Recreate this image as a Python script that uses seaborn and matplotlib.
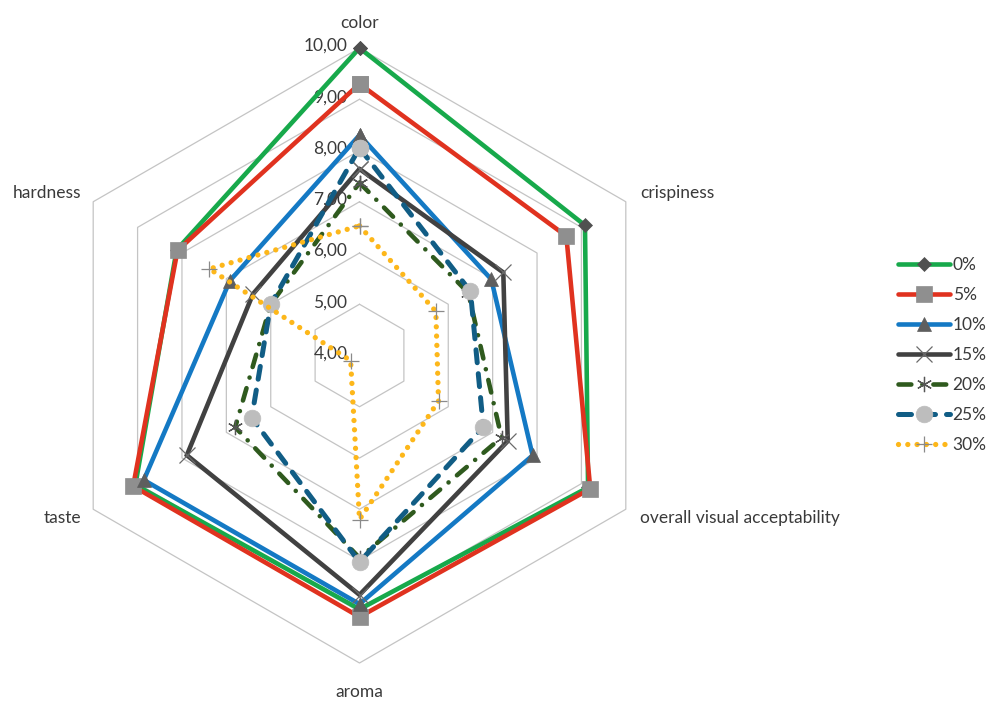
import numpy as np
import pandas as pd
import matplotlib
matplotlib.use("Agg")
import matplotlib.pyplot as plt
import seaborn as sns

# Sensory attributes, clockwise from the top
categories = ["color", "crispiness", "overall visual acceptability",
              "aroma", "taste", "hardness"]

# Mean scores per substitution level
series_labels = ["0%", "5%", "10%", "15%", "20%", "25%", "30%"]
scores_0 = [10.00, 9.08, 9.15, 8.95, 9.05, 8.12]
scores_5 = [9.30, 8.66, 9.20, 9.10, 9.10, 8.10]
scores_10 = [8.30, 6.97, 7.90, 8.85, 8.86, 6.92]
scores_15 = [7.64, 7.24, 7.34, 8.67, 7.89, 6.40]
scores_20 = [7.37, 6.45, 7.20, 7.95, 6.80, 6.00]
scores_25 = [8.05, 6.50, 6.79, 8.03, 6.43, 6.00]
scores_30 = [6.53, 5.72, 5.78, 7.20, 4.20, 7.38]
series_values = [scores_0, scores_5, scores_10, scores_15,
                 scores_20, scores_25, scores_30]

# Radial scale
r_min, r_max = 4, 10
ring_values = [5, 6, 7, 8, 9, 10]
tick_values = [4, 5, 6, 7, 8, 9, 10]
tick_labels = ["4,00", "5,00", "6,00", "7,00", "8,00", "9,00", "10,00"]

# Line and marker styles for each series
styles = {
    "0%":  dict(color="#17A94B", lw=3.3, ls="-", marker="D", ms=7.5,
                mfc="#505050", mec="#505050", mew=0.5),
    "5%":  dict(color="#E0321F", lw=3.3, ls="-", marker="s", ms=11,
                mfc="#8F8F8F", mec="#8F8F8F", mew=0.5),
    "10%": dict(color="#1479C4", lw=3.3, ls="-", marker="^", ms=10,
                mfc="#5E5E5E", mec="#5E5E5E", mew=0.5),
    "15%": dict(color="#414141", lw=3.3, ls="-", marker="x", ms=11,
                mfc="#6A6A6A", mec="#6A6A6A", mew=0.9),
    "20%": dict(color="#2F5A1E", lw=3.3, ls=(0, (2.8, 2.4, 0.01, 2.4)),
                marker=(6, 2, 0), ms=11, mfc="#555555", mec="#555555", mew=0.9),
    "25%": dict(color="#115D85", lw=3.6, ls=(0, (2.6, 2.2)), marker="o", ms=12,
                mfc="#BDBDBD", mec="#BDBDBD", mew=0.5),
    "30%": dict(color="#FDB71A", lw=3.8, ls=(0, (0.01, 1.75)), marker="+", ms=11,
                mfc="#8A8A8A", mec="#8A8A8A", mew=0.9),
}

sns.set_theme(style="white")
plt.rcParams["font.family"] = ["Lato", "DejaVu Sans"]
text_color = "#3A3A3A"
fs = 12.5

fig = plt.figure(figsize=(9.91, 7.02), dpi=100)
ax = fig.add_axes([52 / 991, 39 / 702, 615 / 991, 615 / 702], projection="polar")
ax.set_theta_zero_location("N")
ax.set_theta_direction(-1)
ax.set_ylim(r_min, r_max)
ax.grid(False)
ax.set_xticks([])
ax.set_yticks([])
ax.spines["polar"].set_visible(False)
ax.patch.set_alpha(0)

theta = np.deg2rad(np.arange(len(categories)) * 360 / len(categories))
theta_closed = np.append(theta, theta[0])

# Hexagonal grid rings
for rv in ring_values:
    ax.plot(theta_closed, [rv] * len(theta_closed), color="#C4C4C4", lw=0.9,
            zorder=1, clip_on=False)

# Radial tick labels along the top spoke
for tv, tl in zip(tick_values, tick_labels):
    ax.annotate(tl, xy=(0, tv), xytext=(-12, 2), textcoords="offset pixels",
                ha="right", va="center", fontsize=fs, color=text_color,
                zorder=2, annotation_clip=False)

# Category labels around the outer ring
label_offsets = [(0, 20, "center"), (14, 4, "left"), (14, -14, "left"),
                 (0, -34, "center"), (-12, -14, "right"), (-12, 4, "right")]
for th, cat, (dx, dy, ha) in zip(theta, categories, label_offsets):
    ax.annotate(cat, xy=(th, r_max), xytext=(dx, dy), textcoords="offset pixels",
                ha=ha, va="baseline", fontsize=fs, color=text_color,
                annotation_clip=False)

# Series polygons
for i, (lab, vals) in enumerate(zip(series_labels, series_values)):
    st = styles[lab]
    df = pd.DataFrame({"angle": theta_closed, "score": list(vals) + [vals[0]]})
    sns.lineplot(data=df, x="angle", y="score", ax=ax, sort=False, estimator=None,
                 color=st["color"], linewidth=st["lw"], linestyle=st["ls"],
                 marker=st["marker"], markersize=st["ms"],
                 markerfacecolor=st["mfc"], markeredgecolor=st["mec"],
                 markeredgewidth=st["mew"], dash_capstyle="round",
                 solid_joinstyle="miter", label=lab, zorder=3 + i, clip_on=False)

ax.set_xlabel("")
ax.set_ylabel("")
ax.set_ylim(r_min, r_max)

handles, labels = ax.get_legend_handles_labels()
if ax.get_legend() is not None:
    ax.get_legend().remove()
fig.legend(handles, labels, loc="center left", bbox_to_anchor=(898 / 991, 1 - 355 / 702),
           frameon=False, fontsize=fs, labelcolor=text_color, handlelength=3.0,
           handletextpad=0.15, labelspacing=0.8, borderpad=0, borderaxespad=0,
           numpoints=1)

fig.savefig("out.png", dpi=100, facecolor="white")
